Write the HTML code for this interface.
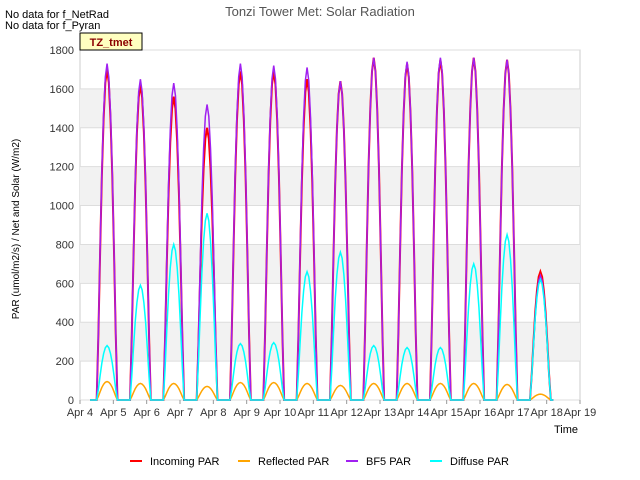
<!DOCTYPE html>
<html><head><meta charset="utf-8"><style>
body{margin:0;width:640px;height:480px;background:#fff;font-family:"Liberation Sans",sans-serif;overflow:hidden}
</style></head><body>
<svg width="640" height="480" style="position:absolute;left:0;top:0">
<text x="5" y="18" font-size="11">No data for f_NetRad</text>
<text x="5" y="29" font-size="11">No data for f_Pyran</text>
<text x="320" y="16" font-size="13" fill="#555" text-anchor="middle">Tonzi Tower Met: Solar Radiation</text>
<g id="plot"></g>
<g id="axes"></g>
<rect x="80" y="33" width="62" height="17" fill="#ffffc0" stroke="#000"/>
<text x="111" y="46" font-size="11" font-weight="bold" fill="#8b0000" text-anchor="middle">TZ_tmet</text>
<text x="19" y="229" font-size="10" transform="rotate(-90 19 229)" text-anchor="middle">PAR (umol/m2/s) / Net and Solar (W/m2)</text>
<text x="566" y="433" font-size="11" text-anchor="middle">Time</text>
<g id="legend"></g>
</svg>
<script>
const xTicks=["Apr 4","Apr 5","Apr 6","Apr 7","Apr 8","Apr 9","Apr 10","Apr 11","Apr 12","Apr 13","Apr 14","Apr 15","Apr 16","Apr 17","Apr 18","Apr 19"];
const yTicks=[0,200,400,600,800,1000,1200,1400,1600,1800];
const incomingPeaks=[1700,1620,1560,1400,1690,1690,1650,1640,1760,1730,1750,1760,1750,660];
const bf5Peaks=[1730,1650,1630,1520,1730,1720,1710,1640,1760,1740,1760,1760,1750,640];
const diffusePeaks=[280,590,800,960,290,295,660,760,280,270,270,700,850,620];
const reflectedPeaks=[95,85,85,70,90,90,85,75,85,85,85,85,80,30];
const profile=[0,0.2,0.45,0.68,0.85,0.96,1,0.96,0.85,0.68,0.45,0.2,0];
const X0=80,X1=580,Y0=400,Y1=50;
const xs=d=>X0+(d/15)*(X1-X0), ys=v=>Y0-(v/1800)*(Y0-Y1);
const NS="http://www.w3.org/2000/svg";
function mk(t,a,p){const e=document.createElementNS(NS,t);for(const k in a)e.setAttribute(k,a[k]);p.appendChild(e);return e;}
const plot=document.getElementById('plot'),axes=document.getElementById('axes');
mk('rect',{x:X0,y:Y1,width:X1-X0,height:Y0-Y1,fill:'#fff',stroke:'#ccc'},plot);
for(let i=0;i<yTicks.length-1;i++){if(i%2==1){const b=mk('rect',{x:X0,y:ys(yTicks[i+1]),width:X1-X0,height:ys(yTicks[i])-ys(yTicks[i+1]),fill:'#f2f2f2'},plot);}}
yTicks.forEach(v=>{mk('line',{x1:X0,x2:X1,y1:ys(v),y2:ys(v),stroke:'#ddd'},plot);
const t=mk('text',{x:X0-6,y:ys(v)+4,'font-size':11,'text-anchor':'end',fill:'#333'},axes);t.textContent=v;
});
xTicks.forEach((s,i)=>{mk('line',{x1:xs(i),x2:xs(i),y1:Y0,y2:Y0+4,stroke:'#999'},axes);
const t=mk('text',{x:xs(i),y:Y0+16,'font-size':11,'text-anchor':'middle',fill:'#333'},axes);t.textContent=s;
});
function series(peaks,color,name,w){
 let pts=[[xs(0.3),ys(0)]];
 peaks.forEach((p,d)=>{profile.forEach((f,k)=>{pts.push([xs(d+0.5+k*0.052),ys(p*f)]);});});
 pts.push([xs(peaks.length+0.2),ys(0)]);
 const e=mk('polyline',{points:pts.map(q=>q.join(',')).join(' '),fill:'none',stroke:color,'stroke-width':w},plot);
 }
series(incomingPeaks,'#ff0000','incoming-par-line',2);
series(reflectedPeaks,'#ffa500','reflected-par-line',1.5);
series(bf5Peaks,'#a020f0','bf5-par-line',1.5);
series(diffusePeaks,'#00ffff','diffuse-par-line',1.5);
const lg=document.getElementById('legend');
[["Incoming PAR","#ff0000",130],["Reflected PAR","#ffa500",238],["BF5 PAR","#a020f0",346],["Diffuse PAR","#00ffff",430]].forEach(([n,c,x])=>{
 const l=mk('line',{x1:x,x2:x+12,y1:461,y2:461,stroke:c,'stroke-width':2},lg);
 
 const t=mk('text',{x:x+20,y:465,'font-size':11},lg);t.textContent=n;
 });
</script>
</body></html>
